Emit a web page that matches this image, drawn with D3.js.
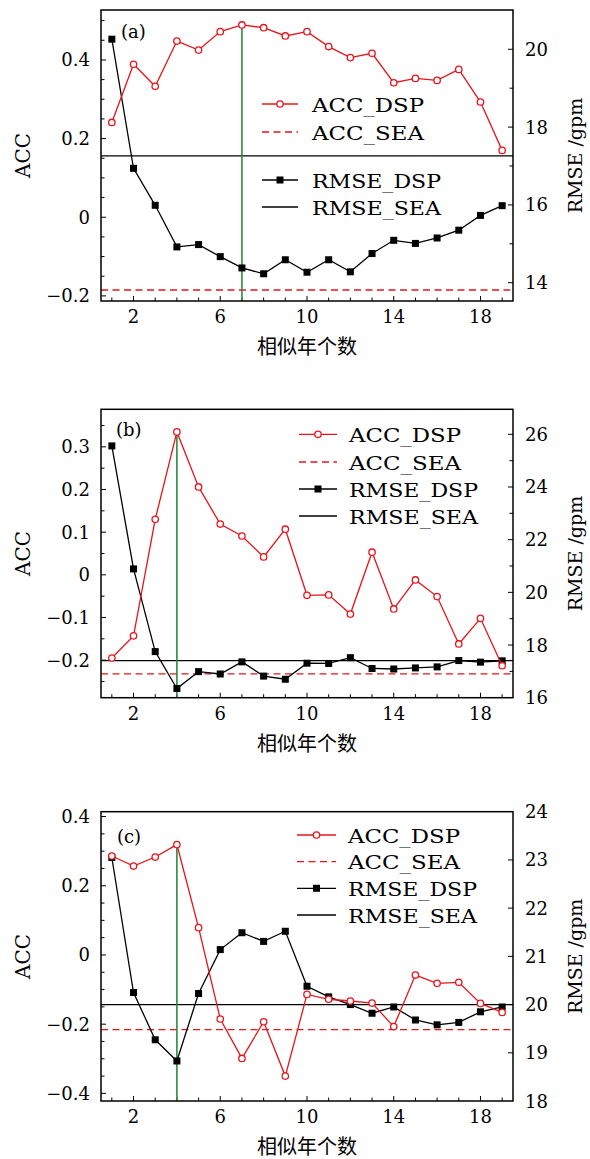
<!DOCTYPE html>
<html>
<head>
<meta charset="utf-8">
<script src="https://cdn.jsdelivr.net/npm/d3@7"></script>
<style>
  html, body { margin: 0; padding: 0; background: #fff; }
  svg { display: block; }
  text { font-family: "DejaVu Serif", serif; fill: #000; }
  .cjk { font-family: "Noto Sans CJK SC", sans-serif; }
</style>
</head>
<body>
<div id="chart"></div>
<script>
const width = 590;
const height = 1159;

// 相似年个数
const years = [1, 2, 3, 4, 5, 6, 7, 8, 9, 10, 11, 12, 13, 14, 15, 16, 17, 18, 19];

// (a)
const accDspA = [0.241, 0.389, 0.333, 0.448, 0.425, 0.472, 0.489, 0.482, 0.461, 0.472,
                 0.434, 0.406, 0.417, 0.342, 0.353, 0.348, 0.376, 0.293, 0.170];
const rmseDspA = [20.26, 16.94, 15.99, 14.92, 14.98, 14.67, 14.38, 14.23, 14.59, 14.27,
                  14.59, 14.28, 14.75, 15.09, 15.01, 15.15, 15.35, 15.73, 15.98];
const accSeaA = -0.185;
const rmseSeaA = 17.26;
const bestA = 7;

// (b)
const accDspB = [-0.195, -0.143, 0.130, 0.335, 0.206, 0.119, 0.091, 0.042, 0.107, -0.048,
                 -0.047, -0.092, 0.053, -0.080, -0.012, -0.051, -0.162, -0.102, -0.213];
const rmseDspB = [25.56, 20.89, 17.75, 16.35, 16.99, 16.90, 17.36, 16.82, 16.70, 17.31,
                  17.30, 17.52, 17.11, 17.09, 17.13, 17.17, 17.41, 17.35, 17.40];
const accSeaB = -0.232;
const rmseSeaB = 17.41;
const bestB = 4;

// (c)
const accDspC = [0.286, 0.257, 0.283, 0.319, 0.079, -0.185, -0.299, -0.193, -0.350, -0.114,
                 -0.128, -0.133, -0.139, -0.207, -0.058, -0.082, -0.079, -0.140, -0.166];
const rmseDspC = [23.05, 20.25, 19.27, 18.83, 20.23, 21.14, 21.49, 21.31, 21.52, 20.38,
                  20.16, 20.00, 19.82, 19.95, 19.68, 19.58, 19.63, 19.85, 19.95];
const accSeaC = -0.216;
const rmseSeaC = 20.0;
const bestC = 4;

// tick labels
const xTicks = [2, 6, 10, 14, 18];
const accTicksA = [-0.2, 0, 0.2, 0.4];
const accTicksB = [-0.2, -0.1, 0, 0.1, 0.2, 0.3];
const accTicksC = [-0.4, -0.2, 0, 0.2, 0.4];
const rmseTicksA = [14, 16, 18, 20];
const rmseTicksB = [16, 18, 20, 22, 24, 26];
const rmseTicksC = [18, 19, 20, 21, 22, 23, 24];
const legendNames = ["ACC_DSP", "ACC_SEA", "RMSE_DSP", "RMSE_SEA"];

const red = "#e8141c";
const green = "#2b8a3e";
const left = 101, right = 513;

const svg = d3.select("#chart").append("svg")
    .attr("width", width)
    .attr("height", height);

svg.append("rect").attr("width", width).attr("height", height).attr("fill", "#fff");

const x = d3.scaleLinear().domain([0.5, 19.5]).range([left, right]);

const fmt = d3.format("");

function drawPanel(p) {
    const g = svg.append("g");
    const yL = d3.scaleLinear().domain(p.accDomain).range([p.bottom, p.top]);
    const yR = d3.scaleLinear().domain(p.rmseDomain).range([p.bottom, p.top]);

    // minor ticks
    const accMinor = d3.range(-0.5, 0.55, 0.05).map(v => +v.toFixed(2))
        .filter(v => v > p.accDomain[0] && v < p.accDomain[1]);
    const rmseMinor = p.rmseMinor ? d3.range(11, 30, 1)
        .filter(v => v > p.rmseDomain[0] && v < p.rmseDomain[1]) : [];

    // bottom axis (ticks inward)
    const xAxis = g.append("g").attr("transform", `translate(0,${p.bottom})`);
    xAxis.selectAll("line").data(years).join("line")
        .attr("x1", d => x(d)).attr("x2", d => x(d))
        .attr("y1", 0).attr("y2", d => xTicks.includes(d) ? -5 : -3.5)
        .attr("stroke", "#000").attr("stroke-width", 1);
    xAxis.selectAll("text").data(xTicks).join("text")
        .attr("x", d => x(d)).attr("y", 22)
        .attr("text-anchor", "middle").attr("font-size", 18)
        .text(fmt);

    // left axis
    const lAxis = g.append("g");
    lAxis.selectAll("line").data(accMinor).join("line")
        .attr("x1", left).attr("x2", d => left + (p.accTicks.some(t => Math.abs(t - d) < 1e-6) ? 5 : 3.5))
        .attr("y1", d => yL(d)).attr("y2", d => yL(d))
        .attr("stroke", "#000").attr("stroke-width", 1);
    lAxis.selectAll("text").data(p.accTicks).join("text")
        .attr("x", 90).attr("y", d => yL(d) + 6.5)
        .attr("text-anchor", "end").attr("font-size", 18)
        .text(fmt);

    // right axis
    const rAxis = g.append("g");
    const rTickVals = Array.from(new Set(p.rmseTicks.concat(rmseMinor)))
        .filter(v => v > p.rmseDomain[0] + 0.01 && v < p.rmseDomain[1] - 0.01);
    rAxis.selectAll("line").data(rTickVals).join("line")
        .attr("x1", right).attr("x2", d => right - (p.rmseTicks.includes(d) ? 5 : 3.5))
        .attr("y1", d => yR(d)).attr("y2", d => yR(d))
        .attr("stroke", "#000").attr("stroke-width", 1);
    rAxis.selectAll("text").data(p.rmseTicks).join("text")
        .attr("x", 525).attr("y", d => yR(d) + 6.5)
        .attr("text-anchor", "start").attr("font-size", 18)
        .text(fmt);

    // reference lines
    g.append("line")
        .attr("x1", left).attr("x2", right)
        .attr("y1", yR(p.rmseSea)).attr("y2", yR(p.rmseSea))
        .attr("stroke", "#000").attr("stroke-width", 1.3);
    g.append("line")
        .attr("x1", left).attr("x2", right)
        .attr("y1", yL(p.accSea)).attr("y2", yL(p.accSea))
        .attr("stroke", red).attr("stroke-width", 1.3)
        .attr("stroke-dasharray", "7,4.5");

    // best year
    const bi = years.indexOf(p.best);
    g.append("line")
        .attr("x1", x(p.best)).attr("x2", x(p.best))
        .attr("y1", yL(p.accDsp[bi])).attr("y2", p.bottom)
        .attr("stroke", green).attr("stroke-width", 1.6);

    // RMSE_DSP
    const rmseLine = d3.line().x((d, i) => x(years[i])).y(d => yR(d));
    g.append("path").datum(p.rmseDsp)
        .attr("d", rmseLine)
        .attr("fill", "none").attr("stroke", "#000").attr("stroke-width", 1.3);
    g.selectAll("rect.sq").data(p.rmseDsp).join("rect")
        .attr("class", "sq")
        .attr("x", (d, i) => x(years[i]) - 3.5).attr("y", d => yR(d) - 3.5)
        .attr("width", 7).attr("height", 7).attr("fill", "#000");

    // ACC_DSP
    const accLine = d3.line().x((d, i) => x(years[i])).y(d => yL(d));
    g.append("path").datum(p.accDsp)
        .attr("d", accLine)
        .attr("fill", "none").attr("stroke", red).attr("stroke-width", 1.3);
    g.selectAll("circle.acc").data(p.accDsp).join("circle")
        .attr("class", "acc")
        .attr("cx", (d, i) => x(years[i])).attr("cy", d => yL(d))
        .attr("r", 3.2).attr("fill", "#fff").attr("stroke", red).attr("stroke-width", 1.3);

    // frame
    g.append("rect")
        .attr("x", left).attr("y", p.top)
        .attr("width", right - left).attr("height", p.bottom - p.top)
        .attr("fill", "none").attr("stroke", "#000").attr("stroke-width", 1.5);

    // panel tag
    g.append("text")
        .attr("x", p.tag[0]).attr("y", p.tag[1])
        .attr("font-size", 18)
        .text(`(${p.key})`);

    // legend
    const lg = p.legend;
    legendNames.forEach((name, i) => {
        const yy = lg.rows[i];
        const isAcc = i < 2;
        const ln = g.append("line")
            .attr("x1", lg.x0).attr("x2", lg.x1)
            .attr("y1", yy).attr("y2", yy)
            .attr("stroke", isAcc ? red : "#000").attr("stroke-width", 1.3);
        if (i === 1) ln.attr("stroke-dasharray", "7,4.5");
        const cx = (lg.x0 + lg.x1) / 2;
        if (i === 0) {
            g.append("circle").attr("cx", cx).attr("cy", yy).attr("r", 3.2)
                .attr("fill", "#fff").attr("stroke", red).attr("stroke-width", 1.3);
        } else if (i === 2) {
            g.append("rect").attr("x", cx - 3.5).attr("y", yy - 3.5)
                .attr("width", 7).attr("height", 7).attr("fill", "#000");
        }
        g.append("text")
            .attr("x", lg.tx).attr("y", yy + 7.5)
            .attr("font-size", 19)
            .attr("textLength", isAcc ? 112 : 129)
            .attr("lengthAdjust", "spacingAndGlyphs")
            .text(name);
    });

    // axis titles
    const cy = (p.top + p.bottom) / 2;
    g.append("text")
        .attr("transform", `translate(30,${cy}) rotate(-90)`)
        .attr("text-anchor", "middle").attr("font-size", 20)
        .text("ACC");
    g.append("text")
        .attr("transform", `translate(582,${cy}) rotate(-90)`)
        .attr("text-anchor", "middle").attr("font-size", 19)
        .text("RMSE /gpm");
    g.append("text")
        .attr("class", "cjk")
        .attr("x", (left + right) / 2).attr("y", p.bottom + 53)
        .attr("text-anchor", "middle").attr("font-size", 20)
        .text("相似年个数");
}

const panels = [
    {
        key: "a", top: 10, bottom: 301,
        accDomain: [-0.213, 0.527], rmseDomain: [13.53, 21.01],
        accTicks: accTicksA, rmseTicks: rmseTicksA, rmseMinor: true,
        accDsp: accDspA, rmseDsp: rmseDspA, accSea: accSeaA, rmseSea: rmseSeaA, best: bestA,
        tag: [121, 38],
        legend: { rows: [104, 132, 180, 207], x0: 262, x1: 298, tx: 312 }
    },
    {
        key: "b", top: 409.3, bottom: 697.7,
        accDomain: [-0.288, 0.388], rmseDomain: [16.0, 26.95],
        accTicks: accTicksB, rmseTicks: rmseTicksB, rmseMinor: true,
        accDsp: accDspB, rmseDsp: rmseDspB, accSea: accSeaB, rmseSea: rmseSeaB, best: bestB,
        tag: [116, 436],
        legend: { rows: [434.3, 462, 489, 516], x0: 299, x1: 337, tx: 349 }
    },
    {
        key: "c", top: 811.7, bottom: 1101,
        accDomain: [-0.422, 0.414], rmseDomain: [18, 24],
        accTicks: accTicksC, rmseTicks: rmseTicksC, rmseMinor: false,
        accDsp: accDspC, rmseDsp: rmseDspC, accSea: accSeaC, rmseSea: rmseSeaC, best: bestC,
        tag: [117, 843],
        legend: { rows: [835, 861.7, 888.3, 915], x0: 297, x1: 336, tx: 348 }
    }
];

panels.forEach(drawPanel);
</script>
</body>
</html>
